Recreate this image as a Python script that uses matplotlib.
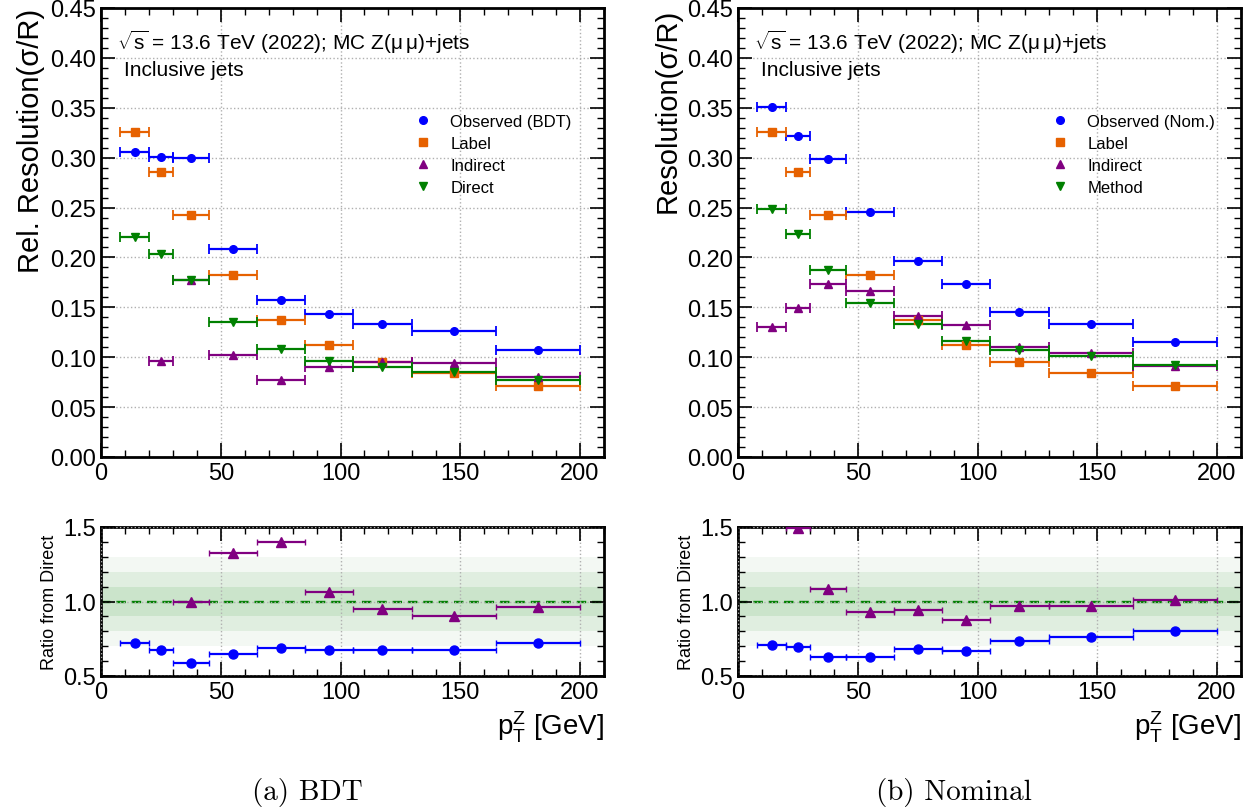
import numpy as np
import matplotlib
matplotlib.use('Agg')
import matplotlib.pyplot as plt
from matplotlib.ticker import MultipleLocator, FormatStrFormatter

plt.rcParams['font.family'] = ['Liberation Sans', 'DejaVu Sans']
plt.rcParams['mathtext.fontset'] = 'custom'
plt.rcParams['mathtext.rm'] = 'Liberation Sans'
plt.rcParams['mathtext.it'] = 'Liberation Sans:italic'
plt.rcParams['mathtext.bf'] = 'Liberation Sans:bold'

# pT^Z bins
bin_edges = [8, 20, 30, 45, 65, 85, 105, 130, 165, 200]

# (a) BDT
bdt_observed = [0.306, 0.301, 0.300, 0.208, 0.157, 0.143, 0.133, 0.126, 0.107]
bdt_label = [0.326, 0.286, 0.243, 0.182, 0.137, 0.112, 0.095, 0.084, 0.071]
bdt_indirect = [np.nan, 0.096, 0.177, 0.102, 0.077, 0.090, 0.095, 0.094, 0.080]
bdt_direct = [0.220, 0.203, 0.177, 0.135, 0.108, 0.096, 0.090, 0.085, 0.077]

# (b) Nominal
nom_observed = [0.351, 0.322, 0.299, 0.246, 0.196, 0.173, 0.145, 0.133, 0.115]
nom_label = [0.326, 0.286, 0.243, 0.182, 0.137, 0.112, 0.095, 0.084, 0.071]
nom_indirect = [0.130, 0.149, 0.173, 0.166, 0.141, 0.132, 0.110, 0.104, 0.091]
nom_method = [0.249, 0.223, 0.187, 0.154, 0.133, 0.116, 0.107, 0.101, 0.092]

colors = {'obs': '#0000ff', 'label': '#e66100', 'ind': '#800080', 'dir': '#008000'}

W, H = 1256, 812


def style_axes(ax):
    ax.tick_params(which='both', direction='in', top=True, right=True, labelsize=17)
    ax.tick_params(which='major', length=10, width=1.2)
    ax.tick_params(which='minor', length=5, width=1.0)
    for s in ax.spines.values():
        s.set_linewidth(2)
    ax.grid(True, which='major', ls=':', color='#b0b0b0', lw=1)
    ax.xaxis.set_major_locator(MultipleLocator(50))
    ax.xaxis.set_minor_locator(MultipleLocator(10))
    ax.set_xlim(0, 210)


def draw_panel(x_px, series, names, ylabel, caption, cap_x):
    edges = np.array(bin_edges, dtype=float)
    xc = 0.5 * (edges[1:] + edges[:-1])
    xerr = 0.5 * (edges[1:] - edges[:-1])
    w = 503 / W
    ax = fig.add_axes([x_px / W, 1 - 458 / H, w, 449 / H])
    rax = fig.add_axes([x_px / W, 1 - 677 / H, w, 149 / H])

    obs, lab, ind, dr = [np.array(s, dtype=float) for s in series]
    specs = [(obs, 'o', colors['obs'], 5.5), (lab, 's', colors['label'], 5.5),
             (ind, '^', colors['ind'], 5.5), (dr, 'v', colors['dir'], 5.5)]
    handles = []
    for vals, m, c, ms in specs:
        ax.errorbar(xc, vals, xerr=xerr, fmt=m, color=c, ms=ms, elinewidth=1.6,
                    capsize=3.5, capthick=1.3)
        handles.append(ax.plot([], [], m, color=c, ms=ms)[0])

    style_axes(ax)
    ax.set_ylim(0, 0.45)
    ax.yaxis.set_major_locator(MultipleLocator(0.05))
    ax.yaxis.set_minor_locator(MultipleLocator(0.01))
    ax.yaxis.set_major_formatter(FormatStrFormatter('%.2f'))
    ax.set_ylabel(ylabel, fontsize=21, loc='top')
    ax.text(0.032, 0.925, r'$\sqrt{\mathrm{s}}$ = 13.6 TeV (2022); MC Z($\mathrm{\mu\,\mu}$)+jets',
            transform=ax.transAxes, fontsize=15, va='center')
    ax.text(0.046, 0.864, 'Inclusive jets', transform=ax.transAxes, fontsize=15, va='center')
    ax.legend(handles, names, loc='upper left', bbox_to_anchor=(0.585, 0.797), frameon=False,
              fontsize=12, handletextpad=0.9, labelspacing=0.42, handlelength=1.5)

    # ratio panel
    for half, col in [(0.3, '#f3f8f3'), (0.2, '#e0eee0'), (0.1, '#cbe4cb')]:
        rax.axhspan(1 - half, 1 + half, color=col, zorder=0, lw=0)
    rax.axhline(1.0, color=colors['dir'], ls=(0, (4, 2.5)), lw=1.7, zorder=1)
    for vals, m, c in [(dr / obs, 'o', colors['obs']), (dr / ind, '^', colors['ind'])]:
        rax.errorbar(xc, vals, xerr=xerr, fmt=m, color=c, ms=6.5, elinewidth=1.6,
                     capsize=2, capthick=1.0, zorder=3)
    style_axes(rax)
    rax.set_axisbelow(False)
    rax.set_ylim(0.5, 1.5)
    rax.yaxis.set_major_locator(MultipleLocator(0.5))
    rax.yaxis.set_minor_locator(MultipleLocator(0.1))
    rax.yaxis.set_major_formatter(FormatStrFormatter('%.1f'))
    rax.set_ylabel('Ratio from Direct', fontsize=13)
    rax.set_xlabel(r'$\mathrm{p_{T}^{Z}}$ [GeV]', fontsize=20, loc='right')

    fig.text(cap_x / W, 1 - 793 / H, caption, fontfamily='cmr10', fontsize=21,
             ha='center', va='center')
    return ax, rax


fig = plt.figure(figsize=(W / 100, H / 100), dpi=100)

draw_panel(101, [bdt_observed, bdt_label, bdt_indirect, bdt_direct],
           ['Observed (BDT)', 'Label', 'Indirect', 'Direct'],
           'Rel. Resolution(σ/R)', '(a) BDT', 307)
draw_panel(738, [nom_observed, nom_label, nom_indirect, nom_method],
           ['Observed (Nom.)', 'Label', 'Indirect', 'Method'],
           'Resolution(σ/R)', '(b) Nominal', 954)

fig.savefig('out.png', dpi=100)
